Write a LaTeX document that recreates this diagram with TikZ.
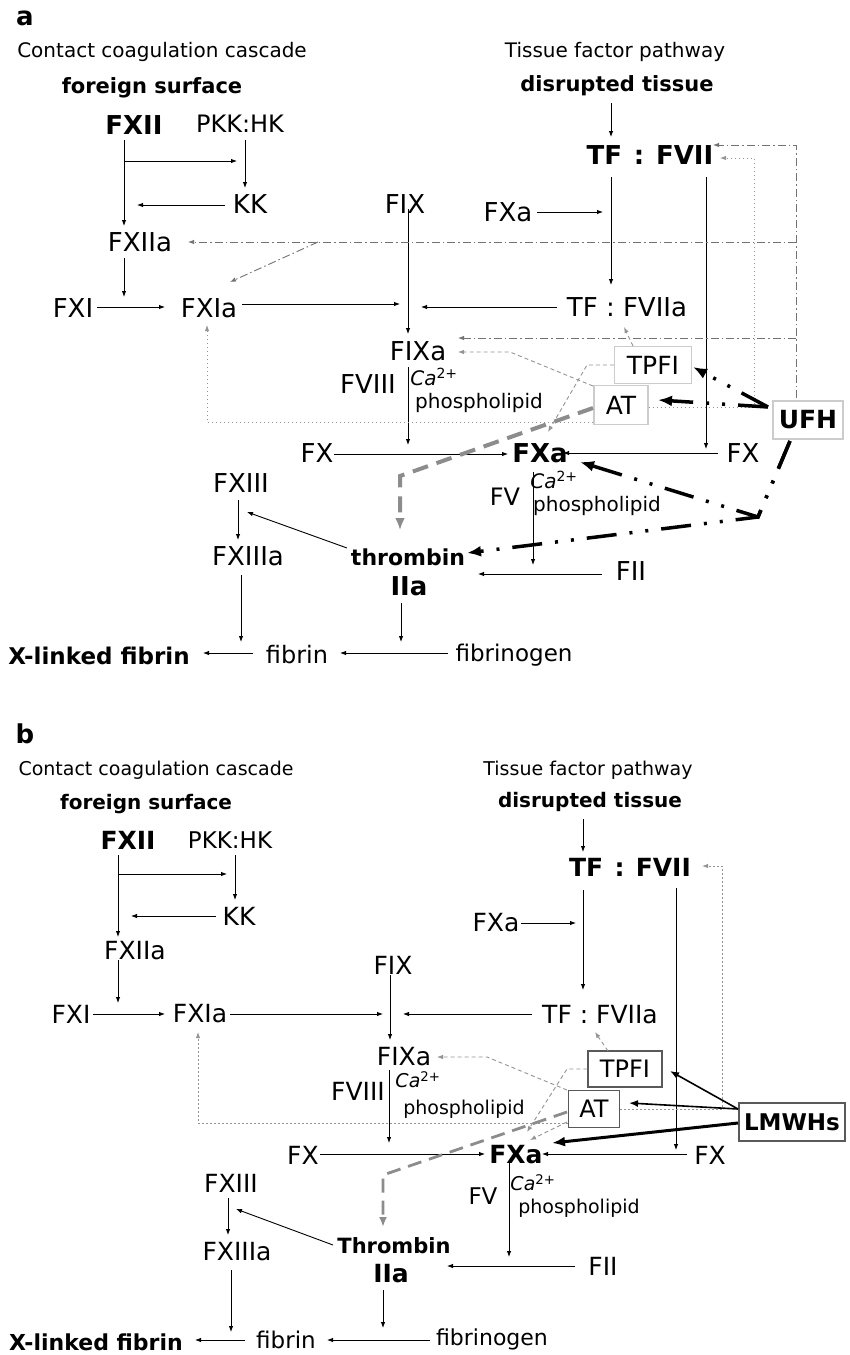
\documentclass[tikz,border=0pt]{standalone}
\usepackage{fontspec}
\setmainfont{DejaVu Sans}
\usetikzlibrary{arrows.meta}
\newcommand\fsz[1]{\fontsize{#1}{#1}\selectfont}
\definecolor{ddgray}{gray}{0.45}
\definecolor{dotgray}{gray}{0.58}
\definecolor{dshgray}{gray}{0.58}
\definecolor{thkgray}{gray}{0.55}
\begin{document}
\begin{tikzpicture}[x=1pt,y=-1pt,
  every node/.style={inner sep=0pt},
  lab/.style={font=\fsz{26}},
  blab/.style={font=\fsz{26}\bfseries},
  lab2/.style={font=\fsz{25}},
  blab2/.style={font=\fsz{25}\bfseries},
  sm/.style={font=\fsz{20}},
  sm2/.style={font=\fsz{19}},
  md/.style={font=\fsz{21}\bfseries},
  md2/.style={font=\fsz{20}\bfseries},
  ttl/.style={font=\fsz{26}\bfseries},
  arr/.style={-{Latex[length=6pt,width=4.5pt]}, line width=0.9pt},
  ddash/.style={draw=ddgray, line width=0.9pt, dash pattern=on 8pt off 3pt on 1.5pt off 3pt, -{Latex[length=6pt,width=4.5pt]}},
  dotl/.style={draw=dotgray, line width=1pt, dash pattern=on 1.5pt off 2.5pt, -{Latex[length=6pt,width=4.5pt]}},
  dshl/.style={draw=dshgray, line width=0.9pt, dash pattern=on 4pt off 3pt, -{Latex[length=6pt,width=4.5pt]}},
  thkd/.style={draw=thkgray, line width=4pt, dash pattern=on 16pt off 9pt, -{Latex[length=12pt,width=10pt]}},
  thkd2/.style={draw=thkgray, line width=2.8pt, dash pattern=on 14pt off 8pt, -{Latex[length=10pt,width=8pt]}},
  ufh/.style={line width=3.5pt, dash pattern=on 30pt off 13pt on 3pt off 13pt on 3pt off 13pt, -{Latex[length=14pt,width=11pt]}},
  boxa/.style={draw=gray!40, line width=1.2pt, font=\fsz{25}},
  boxb/.style={draw=black!65, line width=1.2pt, font=\fsz{24}}
]
\useasboundingbox (0,0) rectangle (849,1355);
\fill[white] (0,0) rectangle (849,1355);

%%%%%%%%%%%%%%%% PANEL A %%%%%%%%%%%%%%%%
\node[ttl] (la) at (25,18) {a};
\node[sm] (cca) at (162,52) {Contact coagulation cascade};
\node[md] (fs) at (152,88) {foreign surface};
\node[blab] (FXII) at (134,125) {FXII};
\node[lab,font=\fsz{24}] (PKK) at (240,124) {PKK:HK};
\node[lab] (KK) at (250,204) {KK};
\node[lab] (FXIIa) at (140,242) {FXIIa};
\node[lab] (FXI) at (73,308) {FXI};
\node[lab] (FXIa) at (209,308) {FXIa};
\node[lab] (FIX) at (405,204) {FIX};
\node[sm] (tfp) at (615,52) {Tissue factor pathway};
\node[md] (dt) at (617,86) {disrupted tissue};
\node[blab] (TFVII) at (650,155) {TF\hspace{0.45em}:\hspace{0.45em}FVII};
\node[lab] (FXau) at (508,212) {FXa};
\node[lab] (TFVIIa) at (627,307) {TF : FVIIa};
\node[lab] (FIXa) at (418,351) {FIXa};
\node[lab] (FVIII) at (368,384) {FVIII};
\node[sm] (Caa) at (434,377) {\textit{Ca}\textsuperscript{2+}};
\node[sm] (pha) at (479,403) {phospholipid};
\node[lab] (FXl) at (317,453) {FX};
\node[blab] (FXa) at (540,453) {FXa};
\node[lab] (FXr) at (743,453) {FX};
\node[boxa, minimum width=77pt, minimum height=37pt] (TPFI) at (653,365) {TPFI};
\node[boxa, minimum width=54pt, minimum height=39pt] (AT) at (621,405) {AT};
\node[boxa, minimum width=70pt, minimum height=38pt, font=\fsz{25}\bfseries] (UFH) at (808,420) {UFH};
\node[lab] (FXIII) at (241,483) {FXIII};
\node[lab] (FXIIIa) at (248,556) {FXIIIa};
\node[blab,font=\fsz{22}\bfseries] (thr) at (408,557) {thrombin};
\node[blab] (IIa) at (409,586) {IIa};
\node[lab,font=\fsz{24}] (FV) at (505,497) {FV};
\node[sm] (Cab) at (554,480) {\textit{Ca}\textsuperscript{2+}};
\node[sm] (phb) at (597,506) {phospholipid};
\node[lab] (FII) at (631,571) {FII};
\node[md,font=\fsz{23}\bfseries] (xf) at (99,656) {X-linked fibrin};
\node[lab,font=\fsz{24}] (fib) at (297,655) {fibrin};
\node[lab,font=\fsz{23}] (fbg) at (514,655) {fibrinogen};

% black arrows
\draw[arr] (124,140) -- (124,226);
\draw[arr] (124,161) -- (237,161);
\draw[arr] (245,140) -- (245,188);
\draw[arr] (225,205) -- (137,205);
\draw[arr] (124,258) -- (124,297);
\draw[arr] (97,307) -- (165,307);
\draw[arr] (242,304) -- (400,304);
\draw[arr] (408,209) -- (408,334);
\draw[arr] (557,307) -- (421,307);
\draw[arr] (611,103) -- (611,137);
\draw[arr] (611,177) -- (611,285);
\draw[arr] (537,212) -- (603,212);
\draw[arr] (706,177) -- (706,449);
\draw[arr] (718,453) -- (563,453);
\draw[arr] (334,454) -- (508,454);
\draw[arr] (408,367) -- (408,445);
\draw[arr] (533,472) -- (533,565);
\draw[arr] (602,574) -- (478,574);
\draw[arr] (347,548) -- (247,512);
\draw[arr] (238,500) -- (238,540);
\draw[arr] (241,575) -- (241,642);
\draw[arr] (401,603) -- (401,642);
\draw[arr] (253,653) -- (203,653);
\draw[arr] (448,653) -- (340,653);

% gray dash-dot (UFH feedback)
\draw[ddash] (796,398) -- (796,145) -- (713,145);
\draw[ddash] (796,242) -- (188,242);
\draw[ddash] (318,242) -- (230,282);
\draw[ddash] (796,338) -- (458,338);
% dotted (AT)
\draw[dotl] (AT.east |- 0,407) -- (754,407) -- (754,158) -- (720,158);
\draw[dotl] (AT.west |- 0,422) -- (207,422) -- (207,325);
% thin dashed
\draw[dshl] (593,386) -- (510,352) -- (458,352);
\draw[dshl] (TPFI.west) -- (587,365) -- (548,432);
\draw[dshl] (633,346) -- (624,327);
% thick gray dashed
\draw[thkd] (593,408) -- (400,476) -- (400,530);
% UFH thick black
\draw[ufh] (768,407) -- (693,367);
\draw[ufh] (768,407) -- (658,400);
\draw[ufh] (790,441) -- (758,517) -- (580,462);
\draw[ufh] (790,441) -- (758,517) -- (467,553);

%%%%%%%%%%%%%%%% PANEL B %%%%%%%%%%%%%%%%
\node[ttl] (lb) at (25,734) {b};
\node[sm2] (ccb) at (156,770) {Contact coagulation cascade};
\node[md2] (fsb) at (146,804) {foreign surface};
\node[blab2] (FXIIb) at (128,840) {FXII};
\node[lab2,font=\fsz{23}] (PKKb) at (230,840) {PKK:HK};
\node[lab2] (KKb) at (239,916) {KK};
\node[lab2] (FXIIab) at (135,951) {FXIIa};
\node[lab2] (FIXb) at (393,965) {FIX};
\node[lab2] (FXIb) at (71,1014) {FXI};
\node[lab2] (FXIab) at (200,1014) {FXIa};
\node[sm2] (tfpb) at (588,770) {Tissue factor pathway};
\node[md2] (dtb) at (590,802) {disrupted tissue};
\node[blab2] (TFVIIb) at (630,867) {TF\hspace{0.45em}:\hspace{0.45em}FVII};
\node[lab2] (FXaub) at (496,923) {FXa};
\node[lab2] (TFVIIab) at (600,1015) {TF : FVIIa};
\node[lab2] (FIXab) at (404,1057) {FIXa};
\node[lab2] (FVIIIb) at (358,1091) {FVIII};
\node[sm2] (Caab) at (418,1080) {\textit{Ca}\textsuperscript{2+}};
\node[sm2] (phab) at (464,1109) {phospholipid};
\node[lab2] (FXlb) at (303,1155) {FX};
\node[blab2] (FXab) at (516,1155) {FXa};
\node[lab2] (FXrb) at (710,1155) {FX};
\node[boxb, minimum width=74pt, minimum height=36pt] (TPFIb) at (625,1069) {TPFI};
\node[boxb, minimum width=51pt, minimum height=37pt] (ATb) at (594,1109) {AT};
\node[boxb, minimum width=106pt, minimum height=38pt, font=\fsz{23}\bfseries] (LMWH) at (792,1122) {LMWHs};
\node[lab2] (FXIIIb) at (231,1183) {FXIII};
\node[lab2] (FXIIIab) at (237,1252) {FXIIIa};
\node[blab2,font=\fsz{21}\bfseries] (thrb) at (394,1246) {Thrombin};
\node[blab2] (IIab) at (391,1274) {IIa};
\node[lab2,font=\fsz{23}] (FVb) at (483,1196) {FV};
\node[sm2] (Cabb) at (533,1183) {\textit{Ca}\textsuperscript{2+}};
\node[sm2] (phbb) at (579,1208) {phospholipid};
\node[lab2] (FIIb) at (603,1266) {FII};
\node[md2,font=\fsz{22}\bfseries] (xfb) at (96,1342) {X-linked fibrin};
\node[lab2,font=\fsz{23}] (fibb) at (286,1340) {fibrin};
\node[lab2,font=\fsz{22}] (fbgb) at (492,1339) {fibrinogen};

% black arrows
\draw[arr] (118,855) -- (118,937);
\draw[arr] (118,874) -- (227,874);
\draw[arr] (235,855) -- (235,900);
\draw[arr] (216,916) -- (131,916);
\draw[arr] (118,960) -- (118,1003);
\draw[arr] (93,1014) -- (165,1014);
\draw[arr] (230,1014) -- (383,1014);
\draw[arr] (390,975) -- (390,1040);
\draw[arr] (532,1014) -- (403,1014);
\draw[arr] (583,819) -- (583,852);
\draw[arr] (583,890) -- (583,990);
\draw[arr] (521,923) -- (576,923);
\draw[arr] (676,888) -- (676,1150);
\draw[arr] (687,1154) -- (542,1154);
\draw[arr] (320,1154) -- (485,1154);
\draw[arr] (389,1070) -- (389,1143);
\draw[arr] (509,1163) -- (509,1257);
\draw[arr] (575,1266) -- (447,1266);
\draw[arr] (333,1245) -- (236,1209);
\draw[arr] (228,1198) -- (228,1235);
\draw[arr] (231,1270) -- (231,1332);
\draw[arr] (383,1290) -- (383,1328);
\draw[arr] (245,1340) -- (195,1340);
\draw[arr] (430,1340) -- (327,1340);

% gray
\draw[dotl] (ATb.east |- 0,1109) -- (722,1109) -- (722,866) -- (702,866);
\draw[dotl] (ATb.west |- 0,1123) -- (198,1123) -- (198,1032);
\draw[dshl] (608,1051) -- (595,1032);
\draw[dshl] (567,1090) -- (487,1057) -- (437,1057);
\draw[dshl] (TPFIb.west) -- (567,1069) -- (527,1132);
\draw[dshl] (567,1122) -- (530,1140);
\draw[thkd2] (567,1112) -- (383,1175) -- (383,1227);

% LMWH arrows
\draw[-{Latex[length=9pt,width=7pt]}, line width=1.6pt] (738,1109) -- (670,1071);
\draw[-{Latex[length=9pt,width=7pt]}, line width=1.6pt] (738,1109) -- (629,1103);
\draw[-{Latex[length=13pt,width=10pt]}, line width=3pt] (738,1123) -- (552,1143);
\end{tikzpicture}
\end{document}
